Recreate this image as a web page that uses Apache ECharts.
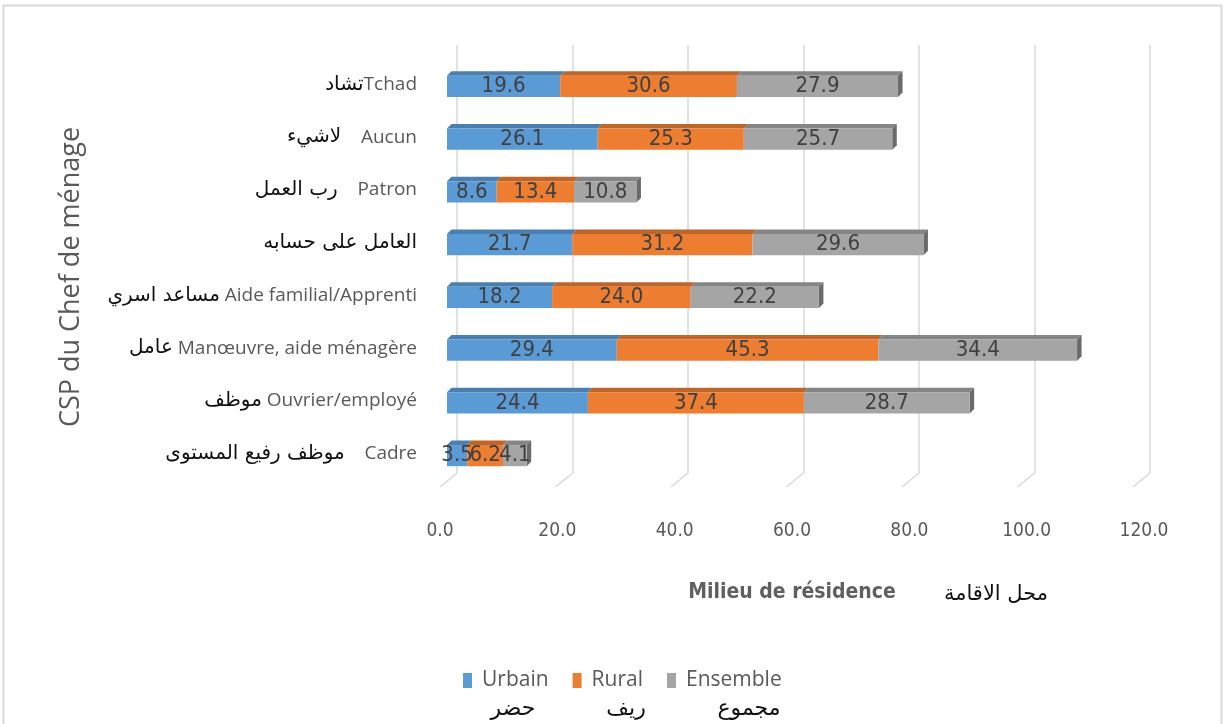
<!DOCTYPE html>
<html>
<head>
<meta charset="utf-8">
<script src="https://cdn.jsdelivr.net/npm/echarts@6/dist/echarts.min.js"></script>
<style>
  html, body { margin: 0; padding: 0; background: #ffffff; }
  #chart { width: 1226px; height: 724px; }
</style>
</head>
<body>
<div id="chart"></div>
<script>
// Household head socio-professional category (bottom to top on the axis)
const categoriesFr = ['Cadre', 'Ouvrier/employé', 'Manœuvre, aide ménagère', 'Aide familial/Apprenti', '', 'Patron', 'Aucun', 'Tchad'];
const categoriesAr = ['موظف رفيع المستوى', 'موظف', 'عامل', 'مساعد اسري', 'العامل على حسابه', 'رب العمل', 'لاشيء', 'تشاد'];
const arGap = ['    ', ' ', ' ', ' ', '', '    ', '    ', ''];

const seriesNames = ['Urbain', 'Rural', 'Ensemble'];
const seriesNamesAr = ['حضر', 'ريف', 'مجموع'];
const urbain   = [3.5, 24.4, 29.4, 18.2, 21.7, 8.6, 26.1, 19.6];
const rural    = [6.2, 37.4, 45.3, 24.0, 31.2, 13.4, 25.3, 30.6];
const ensemble = [4.1, 28.7, 34.4, 22.2, 29.6, 10.8, 25.7, 27.9];

const xTicks = { min: 0, max: 120, interval: 20 };
const tickValues = [0, 20, 40, 60, 80, 100, 120];

const colors = ['#5b9bd5', '#ed7d31', '#a5a5a5'];
const topColors = ['#4a7fb0', '#c0652a', '#858585'];
const sideColors = ['#3f6d95', '#a55622', '#6a6a6a'];

const valueSets = [urbain, rural, ensemble];
const narrow = '"DejaVu Sans Condensed", "Liberation Sans Narrow", sans-serif';
const sans = '"Open Sans", "DejaVu Sans", sans-serif';
const arabic = '"DejaVu Sans", sans-serif';

// Stacked rows [start, end, categoryIndex, value] per series
const stacked = valueSets.map((vals, s) =>
  vals.map((v, i) => {
    let base = 0;
    for (let k = 0; k < s; k++) base += valueSets[k][i];
    return [base, base + v, i, v];
  })
);

// Bar segment with a shaded top face; the outer segment also gets an end face
function makeRender(s) {
  const isLast = s === valueSets.length - 1;
  return function (params, api) {
    const start = api.coord([api.value(0), api.value(2)]);
    const end = api.coord([api.value(1), api.value(2)]);
    const band = api.size([0, 1])[1];
    const h = band * 0.4;
    const d = 4.5;
    const top = start[1] - h / 2 + 2;
    const x0 = start[0], x1 = end[0];
    const children = [
      {
        type: 'polygon',
        shape: { points: [[x0, top], [x1, top], [x1 + d, top - d], [x0 + d, top - d]] },
        style: { fill: topColors[s] },
        z2: 1
      },
      {
        type: 'rect',
        shape: { x: x0, y: top, width: x1 - x0, height: h },
        style: { fill: colors[s] },
        textContent: {
          style: {
            text: api.value(3).toFixed(1),
            fill: '#404040',
            font: '22px ' + narrow
          }
        },
        textConfig: { position: 'inside' },
        z2: 2
      }
    ];
    if (isLast) {
      children.push({
        type: 'polygon',
        shape: { points: [[x1, top], [x1 + d, top - d], [x1 + d, top + h - d], [x1, top + h]] },
        style: { fill: sideColors[s] },
        z2: 1
      });
    }
    return { type: 'group', children };
  };
}

// Floor edge under each back-wall gridline
function renderFloorEdge(params, api) {
  const p = api.coord([api.value(0), 0]);
  return {
    type: 'line',
    shape: { x1: p[0], y1: p[1], x2: p[0] - 17, y2: p[1] + 14 },
    style: { stroke: '#d9d9d9', lineWidth: 1.5 }
  };
}

const chart = echarts.init(document.getElementById('chart'), null, { renderer: 'canvas' });

chart.setOption({
  animation: false,
  backgroundColor: '#ffffff',
  grid: [
    // bars
    { left: 447, right: 86, top: 58, bottom: 244 },
    // back-wall gridlines
    { left: 457, right: 76, top: 45, bottom: 251 },
    // front tick labels
    { left: 440, right: 82, top: 58, bottom: 244 }
  ],
  xAxis: [
    {
      gridIndex: 0, type: 'value', min: xTicks.min, max: xTicks.max, interval: xTicks.interval,
      axisLine: { show: false }, axisTick: { show: false }, splitLine: { show: false },
      axisLabel: { show: false }
    },
    {
      gridIndex: 1, type: 'value', min: xTicks.min, max: xTicks.max, interval: xTicks.interval,
      axisLine: { show: false }, axisTick: { show: false },
      splitLine: { show: true, lineStyle: { color: '#d9d9d9', width: 1.5 } },
      axisLabel: { show: false }
    },
    {
      gridIndex: 2, type: 'value', min: xTicks.min, max: xTicks.max, interval: xTicks.interval,
      axisLine: { show: false }, axisTick: { show: false }, splitLine: { show: false },
      axisLabel: {
        margin: 42,
        formatter: v => v.toFixed(1),
        color: '#595959',
        fontFamily: narrow,
        fontSize: 19
      },
      name: 'Milieu de résidence',
      nameLocation: 'middle',
      nameGap: 102,
      nameTextStyle: { color: '#5f5f5f', fontFamily: narrow, fontSize: 21, fontWeight: 'bold' }
    }
  ],
  yAxis: [
    {
      gridIndex: 0,
      type: 'category',
      data: categoriesFr.map((c, i) => i),
      axisLine: { show: false },
      axisTick: { show: false },
      axisLabel: {
        margin: 30,
        formatter: (v, i) => '{ar|' + categoriesAr[i] + '}' + (categoriesFr[i] ? '{fr|' + arGap[i] + categoriesFr[i] + '}' : ''),
        rich: {
          ar: { color: '#111111', fontFamily: arabic, fontSize: 20 },
          fr: { color: '#595959', fontFamily: sans, fontSize: 19 }
        }
      },
      name: 'CSP du Chef de ménage',
      nameLocation: 'middle',
      nameGap: 362,
      nameRotate: 90,
      nameTextStyle: { color: '#595959', fontFamily: sans, fontSize: 27, padding: [0, 16, 0, 0] }
    },
    { gridIndex: 1, type: 'value', min: 0, max: 1, show: false },
    { gridIndex: 2, type: 'value', show: false }
  ],
  legend: {
    data: seriesNames,
    left: 458,
    top: 665,
    itemWidth: 9,
    itemHeight: 15,
    itemGap: 24,
    icon: 'rect',
    textStyle: { color: '#595959', fontFamily: sans, fontSize: 21, padding: [0, 0, 0, 5] }
  },
  series: valueSets.map((vals, s) => ({
    name: seriesNames[s],
    type: 'custom',
    xAxisIndex: 0,
    yAxisIndex: 0,
    renderItem: makeRender(s),
    encode: { x: [0, 1], y: 2 },
    itemStyle: { color: colors[s] },
    data: stacked[s]
  })).concat([{
    type: 'custom',
    xAxisIndex: 1,
    yAxisIndex: 1,
    silent: true,
    renderItem: renderFloorEdge,
    encode: { x: 0 },
    data: tickValues.map(v => [v])
  }]),
  graphic: [
    {
      type: 'rect',
      silent: true,
      shape: { x: 3.5, y: 5.5, width: 1218, height: 740 },
      style: { fill: 'none', stroke: '#d9d9d9', lineWidth: 2 }
    },
    {
      type: 'text',
      x: 996, y: 595,
      style: { text: 'محل الاقامة', fill: '#111111', font: '21px ' + arabic, align: 'center', verticalAlign: 'middle' }
    },
    {
      type: 'text',
      x: 513, y: 709,
      style: { text: seriesNamesAr[0], fill: '#111111', font: '22px ' + arabic, align: 'center', verticalAlign: 'middle' }
    },
    {
      type: 'text',
      x: 626, y: 709,
      style: { text: seriesNamesAr[1], fill: '#111111', font: '22px ' + arabic, align: 'center', verticalAlign: 'middle' }
    },
    {
      type: 'text',
      x: 749, y: 709,
      style: { text: seriesNamesAr[2], fill: '#111111', font: '22px ' + arabic, align: 'center', verticalAlign: 'middle' }
    }
  ]
});
</script>
</body>
</html>
